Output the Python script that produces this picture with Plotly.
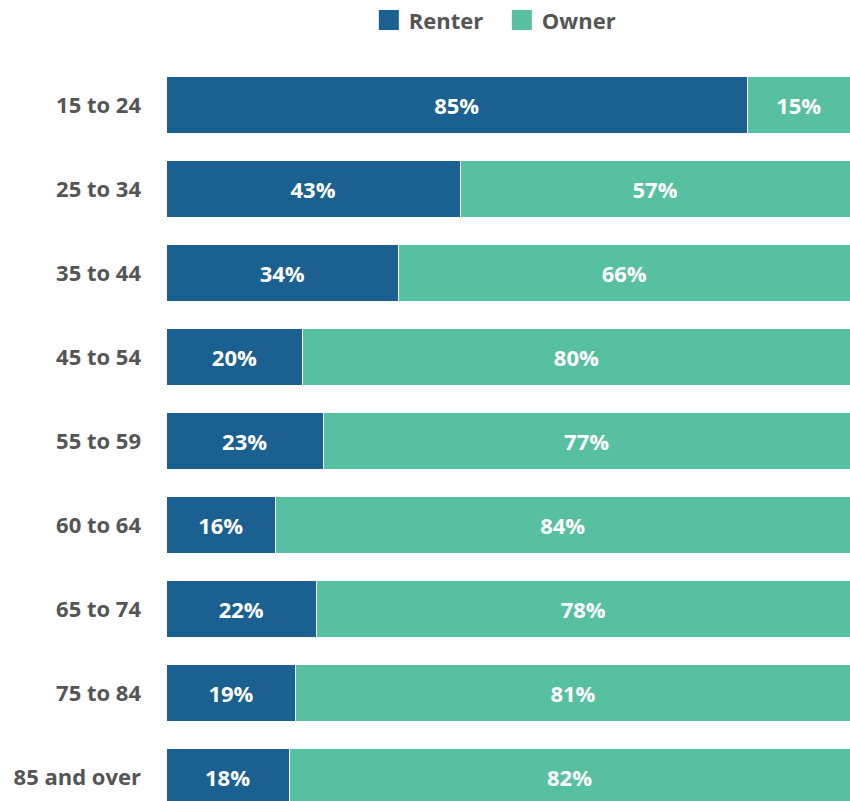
import plotly.graph_objects as go

categories = ["15 to 24", "25 to 34", "35 to 44", "45 to 54", "55 to 59",
              "60 to 64", "65 to 74", "75 to 84", "85 and over"]
renter = [85, 43, 34, 20, 23, 16, 22, 19, 18]
owner = [15, 57, 66, 80, 77, 84, 78, 81, 82]

RENTER_C = "#1a6090"
OWNER_C = "#57c0a0"
FONT = "Open Sans"

fig = go.Figure()
for name, vals, col in [("Renter", renter, RENTER_C), ("Owner", owner, OWNER_C)]:
    fig.add_trace(go.Bar(
        y=categories, x=vals, name=name, orientation="h",
        marker=dict(color=col, line=dict(color="white", width=1)),
        width=0.67,
        text=[f"{v}%" for v in vals], texttemplate="%{text}",
        textposition="inside", insidetextanchor="middle",
        textfont=dict(family=FONT, size=22, color="white", weight="bold"),
        showlegend=False, hoverinfo="skip",
    ))
    fig.add_trace(go.Scatter(
        x=[None], y=[None], mode="markers", name=name,
        marker=dict(symbol="square", size=16, color=col, line=dict(color=col, width=4)),
        showlegend=True,
    ))

fig.update_layout(
    template="none",
    barmode="stack",
    width=850, height=801,
    margin=dict(l=166, r=0, t=63, b=0, autoexpand=False),
    plot_bgcolor="white", paper_bgcolor="white",
    bargap=0.33,
    font=dict(family=FONT, color="#555555"),
    legend=dict(orientation="h", x=0.491, xanchor="center", y=1.058, yanchor="middle",
                font=dict(family=FONT, size=22, color="#555555", weight="bold"),
                itemwidth=30, entrywidth=88, traceorder="normal"),
    xaxis=dict(range=[0, 100], visible=False, fixedrange=True, automargin=False),
    yaxis=dict(range=[8.286, -0.5], showgrid=False, zeroline=False, showline=False,
               ticks="", ticklabelstandoff=24, automargin=False, fixedrange=True,
               tickfont=dict(family=FONT, size=22, color="#555555", weight="bold")),
)

fig.write_html("out.html", config={"displayModeBar": False},
               post_script="document.body.style.margin='0';document.body.style.overflow='hidden';")
